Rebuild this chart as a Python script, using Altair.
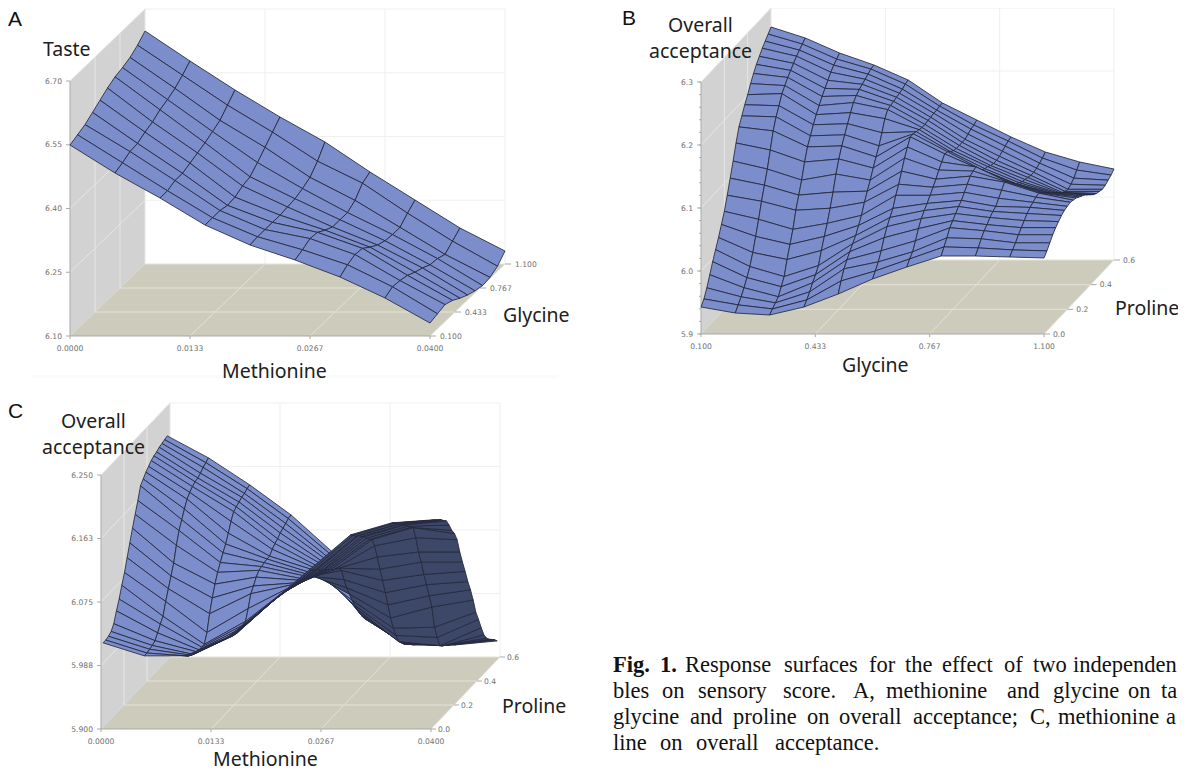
import altair as alt

# ---- Response levels: one list per grid column, front row to back row.
# Each number is the height of the surface above the axis floor, as a share of `levels` of the z axis.
TASTE = [
    [191,194,197,202,207,212,216,218,221,226,233],
    [163,166,170,171,175,178,183,186,190,196,203],
    [138,138,141,141,144,147,150,154,158,166,174],
    [111,111,111,109,110,114,116,123,131,139,147],
    [91,92,92,92,92,93,94,97,101,110,122],
    [76,79,83,82,77,73,73,73,78,88,92],
    [59,64,67,66,60,55,52,51,51,58,64],
    [38,42,41,39,35,32,28,27,24,30,36],
    [13,15,17,14,9,5,2,0,1,5,13],
]
ACCEPT_GLY = [
    [27,32,40,50,60,69,78,88,98,111,125,139,154,167,175,183,190,198,205,211,216,221,225,229,233],
    [21,26,31,37,44,52,63,76,90,105,118,131,147,163,174,182,191,196,201,205,209,213,216,219,222],
    [19,22,25,28,35,42,56,68,80,96,108,120,135,147,155,163,170,176,182,187,192,197,201,204,207],
    [27,31,36,42,47,53,65,76,86,98,111,126,138,148,156,164,172,179,183,186,188,190,192,194,195],
    [40,50,59,65,70,75,80,87,94,104,112,120,129,137,145,155,166,172,173,174,175,176,177,179,180],
    [55,60,66,74,84,92,98,104,114,122,132,142,150,157,157,156,155,154,154,155,155,156,156,157,157],
    [67,72,76,84,93,100,105,109,114,119,124,130,135,140,139,136,134,133,133,133,133,135,137,138,140],
    [78,84,90,97,101,105,109,112,117,122,127,129,130,125,121,119,118,116,115,115,116,118,120,122,123],
    [78,83,89,94,97,101,104,106,111,116,121,118,114,111,107,105,103,102,101,100,100,101,103,105,108],
    [77,81,85,90,94,98,102,105,107,109,110,107,104,101,98,95,92,89,86,84,83,85,88,93,98],
    [76,80,85,90,94,97,100,102,103,104,103,102,100,98,96,93,90,87,85,84,83,84,86,88,91],
]
ACCEPT_MET = [
    [84,84,85,87,92,102,111,122,132,144,156,168,179,190,202,206,210,213,216,218,219,221,222,223,224],
    [71,71,72,73,75,80,86,91,103,113,123,133,148,160,168,176,183,187,190,192,193,195,198,200,202],
    [71,68,66,64,64,63,63,63,72,88,101,112,121,128,135,141,149,158,165,167,169,171,172,174,175],
    [89,87,85,84,83,84,85,86,96,108,113,119,123,124,125,126,126,130,133,135,138,140,142,144,145],
    [122,121,121,120,120,119,118,118,117,117,116,116,115,115,114,113,113,112,111,111,110,110,109,109,108],
    [157,154,151,149,146,143,141,138,135,132,130,128,123,111,100,91,82,74,67,60,54,49,46,42,38],
    [192,189,185,183,179,176,172,168,165,156,142,127,113,98,83,67,54,44,35,31,27,24,21,18,15],
    [204,201,197,195,191,188,184,180,177,164,147,134,119,106,92,78,55,42,31,28,26,23,21,18,15],
    [207,204,201,199,195,192,185,177,171,162,147,134,122,109,98,85,70,60,49,39,33,29,26,23,19],
]
MET_TICKS = ["0.0000", "0.0133", "0.0267", "0.0400"]
GLY_TICKS = ["0.100", "0.433", "0.767", "1.100"]
PRO_TICKS = ["0.0", "0.2", "0.4", "0.6"]
TASTE_TICKS = ["6.10", "6.25", "6.40", "6.55", "6.70"]
ACC_B_TICKS = ["5.9", "6.0", "6.1", "6.2", "6.3"]
ACC_C_TICKS = ["5.900", "5.988", "6.075", "6.163", "6.250"]
CAPTION_BOLD = [("Fig.", 613, 672), ("1.", 660, 672)]
CAPTION = [
    ("Response", 685, 672), ("surfaces", 784, 672), ("for", 869, 672), ("the", 905, 672),
    ("effect", 942, 672), ("of", 1004, 672), ("two", 1033, 672), ("independen", 1073, 672),
    ("bles", 613, 698), ("on", 662, 698), ("sensory", 698, 698), ("score.", 783, 698),
    ("A,", 853, 698), ("methionine", 886, 698), ("and", 1007, 698), ("glycine", 1053, 698),
    ("on", 1128, 698), ("ta", 1161, 698),
    ("glycine", 613, 724), ("and", 690, 724), ("proline", 733, 724), ("on", 807, 724),
    ("overall", 839, 724), ("acceptance;", 913, 724), ("C,", 1030, 724),
    ("methionine", 1058, 724), ("a", 1166, 724),
    ("line", 613, 750), ("on", 660, 750), ("overall", 696, 750), ("acceptance.", 775, 750),
]

# ---- Panel geometry (page pixels) and styles
LIGHT, DARK, EDGE = "#7b8dcb", "#3d4768", "#23283c"
WALL, FLOOR = "#d2d2d2", "#cdccbc"
GRID_WALL, GRID_FLOOR, GRID_BACK, AXIS = "#e6e6e6", "#e2e2d8", "#efefef", "#a9a9a9"

PANELS = [
    dict(o=(70, 336), xv=(360, 0), yv=(75, -72), zpx=255, grid=TASTE, y0=0.0, y1=1.0, minor=False,
         xt=MET_TICKS, yt=GLY_TICKS, zt=TASTE_TICKS, dtick=6, dlab=10),
    dict(o=(701, 334), xv=(343, 0), yv=(70, -74), zpx=252, grid=ACCEPT_GLY, y0=0.0, y1=1.0, minor=True,
         xt=GLY_TICKS, yt=PRO_TICKS, zt=ACC_B_TICKS, dtick=6, dlab=9),
    dict(o=(101, 729), xv=(330, 0), yv=(69, -72), zpx=254, grid=ACCEPT_MET, y0=0.03, y1=0.96, minor=False,
         xt=MET_TICKS, yt=PRO_TICKS, zt=ACC_C_TICKS, dtick=5, dlab=7),
]
TITLES = [
    ("Taste", 43, 56), ("Methionine", 222, 378), ("Glycine", 503, 322),
    ("Overall", 668, 32), ("acceptance", 649, 58), ("Glycine", 842, 372), ("Proline", 1115, 315),
    ("Overall", 61, 428), ("acceptance", 42, 454), ("Methionine", 213, 766), ("Proline", 502, 713),
]
LETTERS = [("A", 8, 26), ("B", 622, 25), ("C", 8, 418)]

fills, lines, surface, ticks = [], [], [], []


def poly(pts, color):
    ring = [list(p) for p in pts] + [list(pts[0])]
    return {"type": "Feature", "geometry": {"type": "Polygon", "coordinates": [ring]},
            "properties": {"c": color}}


def line(pts, color):
    return {"type": "Feature", "geometry": {"type": "LineString", "coordinates": [list(p) for p in pts]},
            "properties": {"c": color}}


fills.append(poly([(33, 375), (558, 375), (558, 378), (33, 378)], "#fafbfd"))

for P in PANELS:
    ox, oy = P["o"]
    xw, yw = P["xv"][0], P["yv"]
    zp = P["zpx"]

    def pt(u, v, h):
        return (ox + u * xw + v * yw[0], oy + v * yw[1] - h)

    fills.append(poly([pt(0, 0, 0), pt(0, 1, 0), pt(0, 1, zp), pt(0, 0, zp)], WALL))
    fills.append(poly([pt(0, 0, 0), pt(1, 0, 0), pt(1, 1, 0), pt(0, 1, 0)], FLOOR))
    for k in range(1, 5):
        h = zp * k / 4
        lines.append(line([pt(0, 1, h), pt(1, 1, h)], GRID_BACK))
        lines.append(line([pt(0, 0, h), pt(0, 1, h)], GRID_WALL))
    for k in range(1, 4):
        u = k / 3
        lines.append(line([pt(u, 1, 0), pt(u, 1, zp)], GRID_BACK))
        lines.append(line([pt(u, 0, 0), pt(u, 1, 0)], GRID_FLOOR))
        lines.append(line([pt(0, u, 0), pt(1, u, 0)], GRID_FLOOR))
        lines.append(line([pt(0, u, 0), pt(0, u, zp)], GRID_WALL))
    # axes and ticks
    lines.append(line([pt(0, 0, zp), pt(0, 0, 0), pt(1, 0, 0)], AXIS))
    for k, lab in enumerate(P["zt"]):
        x, y = pt(0, 0, zp * k / 4)
        lines.append(line([(x - 4, y), (x, y)], AXIS))
        ticks.append(dict(t=lab, x=x - 8, y=y + 2.7, a="right"))
    if P["minor"]:
        for k in range(21):
            x, y = pt(0, 0, zp * k / 20)
            lines.append(line([(x - 2, y), (x, y)], AXIS))
    for k, lab in enumerate(P["xt"]):
        x, y = pt(k / 3, 0, 0)
        lines.append(line([(x, y), (x, y + 3)], AXIS))
        ticks.append(dict(t=lab, x=x, y=y + 14.5, a="center"))
    for k, lab in enumerate(P["yt"]):
        x, y = pt(1, k / 3, 0)
        lines.append(line([(x, y), (x + P["dtick"], y)], AXIS))
        ticks.append(dict(t=lab, x=x + P["dlab"], y=y + 2.7, a="left"))

    # surface: back rows first, so that the front of a fold hides what lies behind it
    G = P["grid"]
    nc, nr = len(G) - 1, len(G[0]) - 1

    def sp(i, j):
        v = P["y0"] + (P["y1"] - P["y0"]) * j / nr
        return pt(i / nc, v, G[i][j])

    for j in range(nr - 1, -1, -1):
        for i in range(nc):
            q = [sp(i, j), sp(i + 1, j), sp(i + 1, j + 1), sp(i, j + 1)]
            area = sum(q[k][0] * q[(k + 1) % 4][1] - q[(k + 1) % 4][0] * q[k][1] for k in range(4))
            surface.append(poly(q, DARK if area > 0 else LIGHT))

proj = dict(type="identity", scale=1, translate=[-8, -8])


def shapes(features, **mark):
    return alt.Chart(alt.InlineData(values=features)).mark_geoshape(**mark).project(**proj)


wall_layer = shapes(fills, strokeWidth=0).encode(fill=alt.Fill("properties.c:N", scale=None))
line_layer = shapes(lines, filled=False, strokeWidth=1).encode(stroke=alt.Stroke("properties.c:N", scale=None))
surf_layer = shapes(surface, stroke=EDGE, strokeWidth=0.85, strokeJoin="round").encode(
    fill=alt.Fill("properties.c:N", scale=None))


def texts(rows, align="left", **mark):
    data = [dict(t=r[0], x=r[1] - 8, y=r[2] - 8) for r in rows]
    return alt.Chart(alt.InlineData(values=data)).mark_text(baseline="alphabetic", align=align, **mark).encode(
        x=alt.X("x:Q", scale=None, axis=None), y=alt.Y("y:Q", scale=None, axis=None), text="t:N")


tick_layers = [
    texts([(t["t"], t["x"], t["y"]) for t in ticks if t["a"] == a], align=a,
          font="DejaVu Sans", fontSize=7.6, color="#707070")
    for a in ("left", "center", "right")
]

chart = alt.layer(
    wall_layer, line_layer, surf_layer, *tick_layers,
    texts(TITLES, font="Noto Sans", fontSize=19.5, color="#202020"),
    texts(LETTERS, font="Liberation Sans", fontSize=21, color="#111111"),
    texts(CAPTION, font="Liberation Serif", fontSize=22.5, color="#111111"),
    texts(CAPTION_BOLD, font="Liberation Serif", fontSize=22.5, fontWeight="bold", color="#111111"),
).properties(width=1170, height=760, padding=0, autosize="none", background="white").configure_view(stroke=None)

chart.save("out.html", embed_options={"renderer": "svg", "actions": False})
